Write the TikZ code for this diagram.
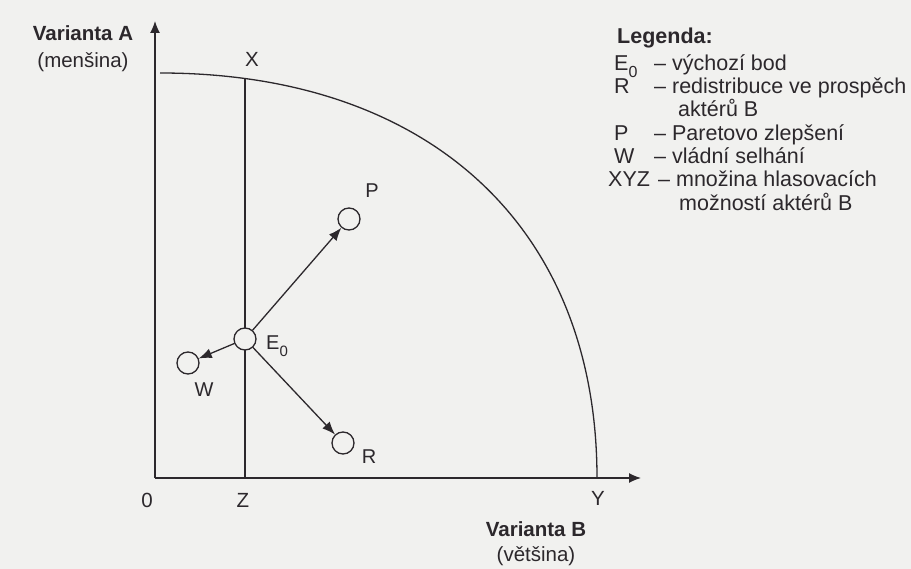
\documentclass[tikz,border=0pt]{standalone}
\usepackage{fontspec}
\setmainfont{Liberation Sans}
\usetikzlibrary{arrows.meta}
\definecolor{paper}{RGB}{241,241,239}
\definecolor{ink}{RGB}{44,40,44}
\newcommand\subz[2]{\raisebox{-0.32em}{\fontsize{#1}{#1}\selectfont #2}}
\tikzset{
  ax/.style={draw=ink,line width=1.3pt},
  axarrow/.style={ax,-{Latex[length=12pt,width=10pt]}},
  arr/.style={ax,-{Latex[length=13pt,width=10pt]}},
  pt/.style={circle,draw=ink,fill=paper,minimum size=22pt,inner sep=0pt,line width=1.3pt},
  lbl/.style={text=ink,font=\fontsize{20}{22}\selectfont,inner sep=0pt},
  leg/.style={text=ink,font=\fontsize{21.5}{24}\selectfont,inner sep=0pt,anchor=base west},
  axlbl/.style={text=ink,font=\fontsize{20.5}{23}\selectfont,inner sep=0pt,anchor=base},
}
\begin{document}
\begin{tikzpicture}[x=1pt,y=-1pt]
\fill[paper] (0,0) rectangle (911,569);
\useasboundingbox (0,0) rectangle (911,569);
% axes
\coordinate (O) at (155,478);
\coordinate (Atop) at (155,21);
\coordinate (Bend) at (641,478);
\coordinate (Xc) at (245,78.5);
\coordinate (Zc) at (245,478);
\coordinate (Yc) at (597,478);
\draw[axarrow] (O) -- (Atop);
\draw[axarrow] (O) -- (Bend);
% frontier
\draw[ax] (160,73) .. controls (429,73) and (597,227) .. (Yc);
% XZ line
\draw[ax] (Xc) -- (Zc);
% points
\node[pt] (E) at (245,339) {};
\node[pt] (P) at (349,219) {};
\node[pt] (W) at (188,363) {};
\node[pt] (R) at (343,443) {};
\draw[arr] (E) -- (P);
\draw[arr] (E) -- (W);
\draw[arr] (E) -- (R);
% point labels
\node[lbl] (Pl) at (372,191) {P};
\node[lbl] (Wl) at (204,390) {W};
\node[lbl] (Rl) at (369,457) {R};
\node[lbl,anchor=base west] (El) at (266,350) {E\subz{15}{0}};
% axis labels
\node[axlbl] (Xl) at (252,67) {X};
\node[axlbl] (Zl) at (243,507) {Z};
\node[axlbl] (Yl) at (598,505) {Y};
\node[axlbl] (Ol) at (147,507) {0};
\node[axlbl] (VA) at (83,41) {\bfseries Varianta A};
\node[axlbl] (VAm) at (83,68) {(menšina)};
\node[axlbl] (VB) at (536,536) {\bfseries Varianta B};
\node[axlbl] (VBm) at (536,561) {(většina)};
% legend
\node[leg] (Lg) at (617,44) {\bfseries Legenda:};
\node[leg] (L1a) at (614,71) {E\subz{16}{0}};
\node[leg] (L1b) at (654,71) {– výchozí bod};
\node[leg] (L2a) at (614,94) {R};
\node[leg] (L2b) at (654,94) {– redistribuce ve prospěch};
\node[leg] (L2c) at (678,117) {aktérů B};
\node[leg] (L3a) at (614,141) {P};
\node[leg] (L3b) at (654,141) {– Paretovo zlepšení};
\node[leg] (L4a) at (614,164) {W};
\node[leg] (L4b) at (654,164) {– vládní selhání};
\node[leg] (L5a) at (608,187) {XYZ};
\node[leg] (L5b) at (658,187) {– množina hlasovacích};
\node[leg] (L5c) at (679,211) {možností aktérů B};
\end{tikzpicture}
\end{document}
